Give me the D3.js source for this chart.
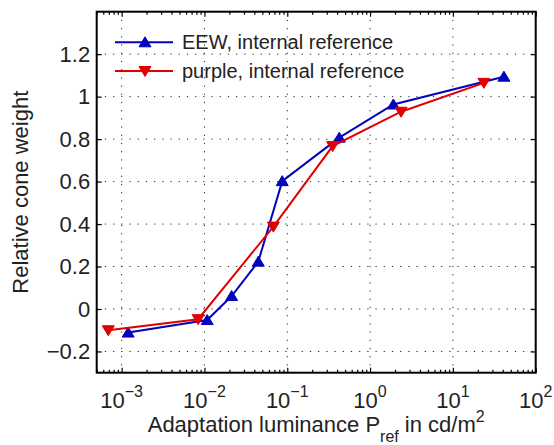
<!DOCTYPE html>
<html>
<head>
<meta charset="utf-8">
<script src="https://cdn.jsdelivr.net/npm/d3@7"></script>
<style>
  body { margin: 0; background: #fff; }
  svg { display: block; font-family: "Liberation Sans", Arial, Helvetica, sans-serif; }
  .grid line { stroke: #222; stroke-width: 1; stroke-dasharray: 1.2,7; }
</style>
</head>
<body>
<svg id="svg1" width="554" height="445"></svg>
<script>
// values
var eewLum = [0.0012, 0.0108, 0.0213, 0.0447, 0.087, 0.425, 1.91, 41.3];
var eewWeight = [-0.111, -0.052, 0.061, 0.223, 0.602, 0.807, 0.963, 1.094];
var purpleLum = [0.00069, 0.0084, 0.068, 0.353, 2.37, 23.7];
var purpleWeight = [-0.100, -0.048, 0.388, 0.767, 0.929, 1.065];
var seriesNames = ["EEW, internal reference", "purple, internal reference"];
var xMajorTicks = [1e-3, 1e-2, 1e-1, 1e0, 1e1, 1e2];
var xTickExponents = ["\u22123", "\u22122", "\u22121", "0", "1", "2"];
var yTicks = [-0.2, 0, 0.2, 0.4, 0.6, 0.8, 1, 1.2];

var translate = function(x, y) {
  return "translate(" + String(x) + ", " + String(y) + ")";
};

var margin = { top: 11.7, left: 96.7 };
var plotWidth = 439;
var plotHeight = 361;

var svg = d3.select("svg#svg1");
var plot = svg.append("g")
  .attr("id", "plot")
  .attr("transform", translate(margin.left, margin.top));

/* Scales */
var lumScale = d3.scaleLog()
  .domain([5e-4, 100])
  .range([0, plotWidth]);

var weightScale = d3.scaleLinear()
  .domain([-0.3, 1.4])
  .range([plotHeight, 0]);

/* dotted grid */
plot.append("g")
  .attr("class", "grid")
  .selectAll("line.v")
  .data(xMajorTicks)
  .enter()
  .append("line")
  .attr("x1", function(d) { return lumScale(d); })
  .attr("x2", function(d) { return lumScale(d); })
  .attr("y1", 0)
  .attr("y2", plotHeight);

plot.append("g")
  .attr("class", "grid")
  .selectAll("line.h")
  .data(yTicks)
  .enter()
  .append("line")
  .attr("x1", 0)
  .attr("x2", plotWidth)
  .attr("y1", function(d) { return weightScale(d); })
  .attr("y2", function(d) { return weightScale(d); });

/* inward ticks on all four sides */
var minorTicks = lumScale.ticks().filter(function(d) {
  return xMajorTicks.indexOf(d) < 0;
});

var tickGroup = function(axis, x, y) {
  var g = plot.append("g")
    .attr("transform", translate(x, y))
    .call(axis);
  g.select(".domain").remove();
  g.selectAll("text").remove();
  g.selectAll("line").attr("stroke", "#000").attr("stroke-width", 1.2);
  return g;
};

tickGroup(d3.axisBottom(lumScale).tickValues(xMajorTicks).tickSize(-5), 0, plotHeight);
tickGroup(d3.axisBottom(lumScale).tickValues(minorTicks).tickSize(-3), 0, plotHeight);
tickGroup(d3.axisTop(lumScale).tickValues(xMajorTicks).tickSize(-5), 0, 0);
tickGroup(d3.axisTop(lumScale).tickValues(minorTicks).tickSize(-3), 0, 0);
tickGroup(d3.axisLeft(weightScale).tickValues(yTicks).tickSize(-5), 0, 0);
tickGroup(d3.axisRight(weightScale).tickValues(yTicks).tickSize(-5), plotWidth, 0);

/* tick labels */
var xLabels = plot.append("g")
  .attr("id", "x-axis")
  .attr("font-size", 22)
  .attr("fill", "#222");

xMajorTicks.forEach(function(v, i) {
  var t = xLabels.append("text")
    .attr("x", lumScale(v))
    .attr("y", plotHeight + 35.5)
    .attr("text-anchor", "middle");
  t.append("tspan").text("10");
  t.append("tspan")
    .attr("font-size", 16)
    .attr("dy", -11)
    .text(xTickExponents[i]);
});

plot.append("g")
  .attr("id", "y-axis")
  .attr("font-size", 22)
  .attr("fill", "#222")
  .selectAll("text")
  .data(yTicks)
  .enter()
  .append("text")
  .attr("x", -6.5)
  .attr("y", function(d) { return weightScale(d); })
  .attr("dy", "0.35em")
  .attr("text-anchor", "end")
  .text(function(d) { return d3.format("~g")(d); });

/* series */
var upPath = "M0,-5.5L6,4.5L-6,4.5Z";
var downPath = "M0,5.5L6,-4.5L-6,-4.5Z";

var drawSeries = function(xs, ys, color, marker) {
  var pts = xs.map(function(x, i) { return [x, ys[i]]; });
  var line = d3.line()
    .x(function(d) { return lumScale(d[0]); })
    .y(function(d) { return weightScale(d[1]); });
  plot.append("path")
    .datum(pts)
    .attr("d", line)
    .attr("fill", "none")
    .attr("stroke", color)
    .attr("stroke-width", 2);
  plot.append("g")
    .selectAll("path")
    .data(pts)
    .enter()
    .append("path")
    .attr("d", marker)
    .attr("transform", function(d) { return translate(lumScale(d[0]), weightScale(d[1])); })
    .attr("fill", color)
    .attr("stroke", color)
    .attr("stroke-width", 1);
};

drawSeries(eewLum, eewWeight, "#0303bb", upPath);
drawSeries(purpleLum, purpleWeight, "#e00000", downPath);

/* frame */
plot.append("rect")
  .attr("width", plotWidth)
  .attr("height", plotHeight)
  .attr("fill", "none")
  .attr("stroke", "#000")
  .attr("stroke-width", 2);

/* legend, no box */
var legend = svg.append("g").attr("id", "legend").attr("font-size", 20);
var legendColors = ["#0303bb", "#e00000"];
var legendMarkers = [upPath, downPath];
seriesNames.forEach(function(name, i) {
  var y = 42.3 + i * 28.7;
  legend.append("line")
    .attr("x1", 115).attr("x2", 173)
    .attr("y1", y).attr("y2", y)
    .attr("stroke", legendColors[i])
    .attr("stroke-width", 2);
  legend.append("path")
    .attr("d", legendMarkers[i])
    .attr("transform", translate(145, y))
    .attr("fill", legendColors[i])
    .attr("stroke", legendColors[i]);
  legend.append("text")
    .attr("x", 182)
    .attr("y", y + 7)
    .attr("fill", "#222")
    .text(name);
});

/* axis titles */
var xTitle = svg.append("text")
  .attr("x", margin.left + plotWidth / 2)
  .attr("y", 432)
  .attr("text-anchor", "middle")
  .attr("font-size", 22)
  .attr("fill", "#222");
xTitle.append("tspan").text("Adaptation luminance P");
xTitle.append("tspan").attr("font-size", 16).attr("dy", 10).text("ref");
xTitle.append("tspan").attr("dy", -10).text(" in cd/m");
xTitle.append("tspan").attr("font-size", 16).attr("dy", -10).text("2");

svg.append("text")
  .attr("transform", translate(28, margin.top + plotHeight / 2) + " rotate(-90)")
  .attr("text-anchor", "middle")
  .attr("font-size", 22)
  .attr("fill", "#222")
  .text("Relative cone weight");
</script>
</body>
</html>
